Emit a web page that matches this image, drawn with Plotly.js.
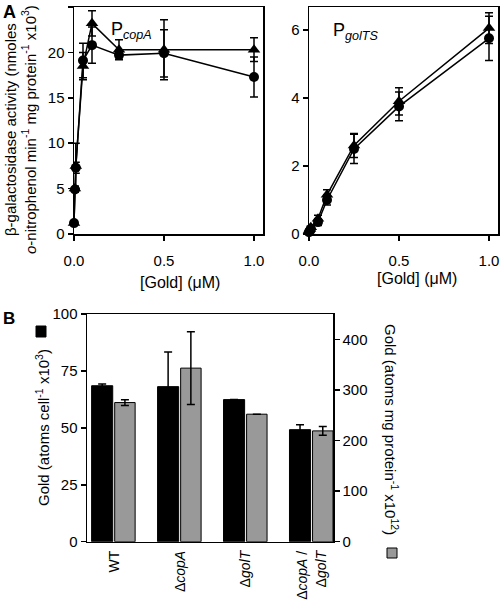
<!DOCTYPE html>
<html>
<head>
<meta charset="utf-8">
<script src="https://cdn.plot.ly/plotly-3.0.1.min.js"></script>
<style>html,body{margin:0;padding:0;background:#fff;}#chart{width:500px;height:604px;}</style>
</head>
<body>
<div id="chart"></div>
<script>
// ---- Panel A data ----
const goldConc = [0, 0.005, 0.01, 0.05, 0.1, 0.25, 0.5, 1.0];
const copA_circle = [1.2, 4.9, 7.3, 19.1, 20.8, 19.7, 19.9, 17.3];
const copA_circle_err = [0.2, 0.3, 0.6, 1.9, 2.0, 0.3, 2.6, 2.2];
const copA_triangle = [1.2, 5.0, 7.5, 18.5, 23.2, 20.3, 20.3, 20.3];
const copA_triangle_err = [0.2, 0.3, 2.5, 1.5, 1.4, 1.1, 3.3, 1.3];
const golTS_circle = [0.05, 0.1, 0.15, 0.35, 1.0, 2.5, 3.75, 5.75];
const golTS_circle_err = [0.05, 0.05, 0.05, 0.1, 0.15, 0.43, 0.42, 0.65];
const golTS_triangle = [0.1, 0.15, 0.2, 0.45, 1.15, 2.6, 3.9, 6.05];
const golTS_triangle_err = [0.05, 0.05, 0.05, 0.1, 0.15, 0.35, 0.4, 0.45];
const xTickVals = [0, 0.5, 1.0];
const xTickText = ['0.0', '0.5', '1.0'];

// ---- Panel B data ----
const strains = [0, 1, 2, 3];
const strainLabels = ['WT', 'Δ<i>copA</i>', 'Δ<i>golT</i>', 'Δ<i>copA</i> /<br>Δ<i>golT</i>'];
const goldPerCell = [68.5, 68.1, 62.4, 49.2];
const goldPerCell_err = [0.8, 15.2, null, 2.2];
const goldPerProtein = [275, 343, 252, 219];
const goldPerProtein_err = [5.6, 72, null, 8.6];

const black = '#000000';
const grey = '#999999';
function errBar(arr) {
  return {type: 'data', array: arr, visible: true, color: black, thickness: 1.5, width: 4};
}
function lineTrace(x, y, err, sym, size, xa, ya, name) {
  return {
    type: 'scatter', mode: 'lines+markers', x: x, y: y, xaxis: xa, yaxis: ya, name: name,
    line: {color: black, width: 1.5},
    marker: {symbol: sym, size: size, color: black},
    error_y: errBar(err), cliponaxis: false, showlegend: false
  };
}

const traces = [
  lineTrace(goldConc, copA_circle, copA_circle_err, 'circle', 10, 'x', 'y', 'PcopA circle'),
  lineTrace(goldConc, copA_triangle, copA_triangle_err, 'triangle-up', 11, 'x', 'y', 'PcopA triangle'),
  lineTrace(goldConc, golTS_circle, golTS_circle_err, 'circle', 10, 'x2', 'y2', 'PgolTS circle'),
  lineTrace(goldConc, golTS_triangle, golTS_triangle_err, 'triangle-up', 11, 'x2', 'y2', 'PgolTS triangle'),
  {
    type: 'bar', x: strains, y: goldPerCell, xaxis: 'x3', yaxis: 'y3', name: 'atoms per cell',
    offset: -0.34, width: 0.32,
    marker: {color: black, line: {color: black, width: 1}},
    error_y: errBar(goldPerCell_err), showlegend: false
  },
  {
    type: 'bar', x: strains, y: goldPerProtein, xaxis: 'x3', yaxis: 'y4', name: 'atoms per mg protein',
    offset: 0.01, width: 0.31,
    marker: {color: grey, line: {color: black, width: 1}},
    error_y: errBar(goldPerProtein_err), showlegend: false
  }
];

const W = 500, H = 604;
const px = v => v / W;
const py = v => 1 - v / H;

const axBase = {
  showgrid: false, zeroline: false, showline: true, linecolor: black, linewidth: 1.5,
  ticks: 'outside', ticklen: 5, tickwidth: 1.5, tickcolor: black,
  tickfont: {size: 15, color: black}
};

const layout = {
  width: W, height: H,
  margin: {l: 0, r: 0, t: 0, b: 0},
  paper_bgcolor: '#ffffff', plot_bgcolor: '#ffffff',
  font: {family: 'Liberation Sans, Arial, sans-serif', size: 15, color: black},
  showlegend: false,
  xaxis: Object.assign({}, axBase, {domain: [px(74), px(263)], range: [0, 1.05], tickvals: xTickVals, ticktext: xTickText, ticklabelstandoff: 7, anchor: 'y', mirror: true}),
  yaxis: Object.assign({}, axBase, {domain: [py(234), py(7)], range: [0, 25], dtick: 5, anchor: 'x', mirror: true}),
  xaxis2: Object.assign({}, axBase, {domain: [px(309), px(498)], range: [0, 1.05], tickvals: xTickVals, ticktext: xTickText, ticklabelstandoff: 7, anchor: 'y2', mirror: true}),
  yaxis2: Object.assign({}, axBase, {domain: [py(234), py(7)], range: [0, 6.67], tickvals: [0, 2, 4, 6], anchor: 'x2', mirror: true}),
  xaxis3: Object.assign({}, axBase, {domain: [px(87), px(333)], range: [-0.41, 3.32], tickvals: strains, ticktext: strainLabels, tickangle: -90, ticks: '', ticklabelstandoff: 2, tickfont: {size: 14, color: black}, anchor: 'y3', mirror: true}),
  yaxis3: Object.assign({}, axBase, {domain: [py(541.7), py(314)], range: [0, 100], dtick: 25, anchor: 'x3'}),
  yaxis4: Object.assign({}, axBase, {domain: [py(541.7), py(314)], range: [0, 450], tickvals: [0, 100, 200, 300, 400], overlaying: 'y3', side: 'right', anchor: 'x3'}),
  annotations: [
    {text: '<b>A</b>', x: px(1), y: py(0), xref: 'paper', yref: 'paper', xanchor: 'left', yanchor: 'top', showarrow: false, font: {size: 18}},
    {text: '<b>B</b>', x: px(1), y: py(307), xref: 'paper', yref: 'paper', xanchor: 'left', yanchor: 'top', showarrow: false, font: {size: 17}},
    {text: 'β-galactosidase activity (nmoles<br><i>o</i>-nitrophenol min<sup>-1</sup> mg protein<sup>-1</sup> x10<sup>3</sup>)',
     x: px(20), y: py(130), xref: 'paper', yref: 'paper', xanchor: 'center', yanchor: 'middle', textangle: -90, showarrow: false, font: {size: 15}},
    {text: '[Gold] (μM)', x: px(180), y: py(282), xref: 'paper', yref: 'paper', xanchor: 'center', yanchor: 'middle', showarrow: false, font: {size: 16}},
    {text: '[Gold] (μM)', x: px(417), y: py(278), xref: 'paper', yref: 'paper', xanchor: 'center', yanchor: 'middle', showarrow: false, font: {size: 16}},
    {text: 'P<sub><i>copA</i></sub>', x: px(109), y: py(17), xref: 'paper', yref: 'paper', xanchor: 'left', yanchor: 'top', showarrow: false, font: {size: 18}},
    {text: 'P<sub><i>golTS</i></sub>', x: px(331), y: py(18), xref: 'paper', yref: 'paper', xanchor: 'left', yanchor: 'top', showarrow: false, font: {size: 18}},
    {text: 'Gold (atoms cell<sup>-1</sup> x10<sup>3</sup>)', x: px(42), y: py(428), xref: 'paper', yref: 'paper', xanchor: 'center', yanchor: 'middle', textangle: -90, showarrow: false, font: {size: 15}},
    {text: 'Gold (atoms mg protein<sup>-1</sup> x10<sup>12</sup>)', x: px(392), y: py(429), xref: 'paper', yref: 'paper', xanchor: 'center', yanchor: 'middle', textangle: 90, showarrow: false, font: {size: 15}}
  ],
  shapes: [
    {type: 'rect', xref: 'paper', yref: 'paper', x0: px(36), x1: px(46), y0: py(337), y1: py(326), fillcolor: black, line: {color: black, width: 1}},
    {type: 'rect', xref: 'paper', yref: 'paper', x0: px(387), x1: px(397), y0: py(558), y1: py(548), fillcolor: grey, line: {color: black, width: 1}}
  ]
};

Plotly.newPlot('chart', traces, layout, {staticPlot: true, displayModeBar: false});
</script>
</body>
</html>
